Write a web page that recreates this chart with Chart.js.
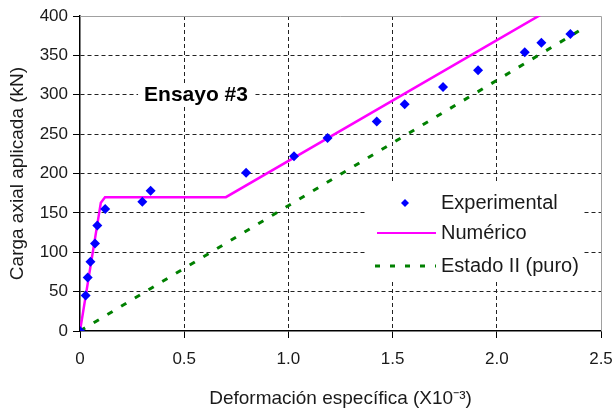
<!DOCTYPE html>
<html>
<head>
<meta charset="utf-8">
<script src="https://cdn.jsdelivr.net/npm/chart.js@4.4.1/dist/chart.umd.min.js"></script>
<style>
    body { margin: 0; background: #fff; }
    #contenedor { width: 615px; height: 411px; }
</style>
</head>
<body>
<div id="contenedor"><canvas id="grafica" width="615" height="411"></canvas></div>
<script>
// Datos (Ensayo #3)
const expX = [0, 0.027, 0.037, 0.05, 0.072, 0.083, 0.121, 0.299, 0.339, 0.797, 1.027, 1.188, 1.424, 1.558, 1.742, 1.91, 2.134, 2.214, 2.353];
const expY = [0, 45, 68, 88, 111, 134, 155, 164, 178, 201, 222, 245, 266, 288, 310, 331, 354, 366, 377];
const numX = [0, 0.1, 0.12, 0.7, 2.22];
const numY = [0, 163, 170, 170, 403];
const estX = [0, 2.4];
const estY = [0, 382];
const xTicks = [0, 0.5, 1, 1.5, 2, 2.5];
const yTicks = [0, 50, 100, 150, 200, 250, 300, 350, 400];

const FUENTE = 'Arial, "Liberation Sans", sans-serif';
const TEXTO = '#1a1a1a';

const puntos = (xs, ys) => xs.map((x, i) => ({ x: x, y: ys[i] }));

// Cuadro del área de trazado, rótulo y leyenda
const extras = {
    id: 'extras',
    beforeDatasetsDraw(chart) {
        const { ctx, chartArea: a } = chart;
        ctx.save();
        ctx.strokeStyle = '#a0a0a0';
        ctx.lineWidth = 1;
        ctx.beginPath();
        ctx.moveTo(a.left, a.top + 0.5);
        ctx.lineTo(a.right + 0.5, a.top + 0.5);
        ctx.lineTo(a.right + 0.5, a.bottom);
        ctx.stroke();

        // rótulo "Ensayo #3"
        ctx.font = 'bold 21px ' + FUENTE;
        ctx.textAlign = 'center';
        ctx.textBaseline = 'middle';
        const w = ctx.measureText('Ensayo #3').width;
        ctx.fillStyle = '#fff';
        ctx.fillRect(196 - w / 2 - 6, 84, w + 12, 22);
        ctx.fillStyle = '#000';
        ctx.fillText('Ensayo #3', 196, 95);
        ctx.restore();
    },
    afterDraw(chart) {
        const { ctx } = chart;
        ctx.save();
        ctx.fillStyle = '#fff';
        ctx.fillRect(367, 183, 216, 99);

        ctx.font = '20px ' + FUENTE;
        ctx.textAlign = 'left';
        ctx.textBaseline = 'middle';

        // Experimental
        ctx.fillStyle = '#0000ff';
        ctx.beginPath();
        ctx.moveTo(405, 199); ctx.lineTo(409, 203); ctx.lineTo(405, 207); ctx.lineTo(401, 203);
        ctx.closePath();
        ctx.fill();
        ctx.fillStyle = TEXTO;
        ctx.fillText('Experimental', 441, 203);

        // Numérico
        ctx.strokeStyle = '#ff00ff';
        ctx.lineWidth = 2;
        ctx.beginPath();
        ctx.moveTo(377, 233); ctx.lineTo(436, 233);
        ctx.stroke();
        ctx.fillText('Numérico', 441, 233);

        // Estado II
        ctx.strokeStyle = '#008000';
        ctx.lineWidth = 3;
        ctx.setLineDash([5, 10]);
        ctx.beginPath();
        ctx.moveTo(375, 266); ctx.lineTo(436, 266);
        ctx.stroke();
        ctx.setLineDash([]);
        ctx.fillText('Estado II (puro)', 441, 266);
        ctx.restore();
    }
};

const rejilla = (extremos) => ({
    color: ctx => extremos.includes(ctx.tick && ctx.tick.value) ? 'rgba(0,0,0,0)' : '#222',
    lineWidth: 1,
    drawTicks: true,
    tickLength: 7,
    tickColor: '#000',
    tickBorderDash: [],
    tickWidth: 1
});

new Chart(document.getElementById('grafica'), {
    type: 'scatter',
    data: {
        datasets: [
            {
                label: 'Estado II (puro)',
                data: puntos(estX, estY),
                showLine: true,
                borderColor: '#008000',
                borderWidth: 3,
                borderDash: [6, 10],
                pointRadius: 0,
                order: 3
            },
            {
                label: 'Numérico',
                data: puntos(numX, numY),
                showLine: true,
                borderColor: '#ff00ff',
                borderWidth: 2.5,
                pointRadius: 0,
                order: 2
            },
            {
                label: 'Experimental',
                data: puntos(expX, expY),
                showLine: false,
                pointStyle: 'rectRot',
                pointRadius: 5,
                backgroundColor: '#0000ff',
                borderColor: '#0000ff',
                borderWidth: 0,
                order: 1
            }
        ]
    },
    options: {
        responsive: false,
        animation: false,
        layout: { padding: { left: 0, right: 14, top: 16, bottom: 0 } },
        plugins: {
            legend: { display: false },
            tooltip: { enabled: false }
        },
        scales: {
            x: {
                type: 'linear',
                min: 0,
                max: 2.5,
                afterBuildTicks: eje => { eje.ticks = xTicks.map(v => ({ value: v })); },
                afterFit: eje => { eje.height = 80; eje.paddingRight = 0; },
                grid: rejilla([0, 2.5]),
                border: { color: '#000', width: 1.5, dash: [4, 3] },
                ticks: { color: TEXTO, font: { family: FUENTE, size: 17 }, padding: 11, maxRotation: 0 },
                title: {
                    display: true,
                    text: 'Deformación específica (X10⁻³)',
                    color: TEXTO,
                    font: { family: FUENTE, size: 19 },
                    padding: { top: 0, bottom: 1 }
                }
            },
            y: {
                type: 'linear',
                min: 0,
                max: 400,
                afterBuildTicks: eje => { eje.ticks = yTicks.map(v => ({ value: v })); },
                afterFit: eje => { eje.width = 80; },
                grid: rejilla([0, 400]),
                border: { color: '#000', width: 1.5, dash: [4, 3] },
                ticks: { color: TEXTO, font: { family: FUENTE, size: 17 }, padding: 5 },
                title: {
                    display: true,
                    text: 'Carga axial aplicada (kN)',
                    color: TEXTO,
                    font: { family: FUENTE, size: 19 },
                    padding: { top: 6, bottom: 0 }
                }
            }
        }
    },
    plugins: [extras]
});
</script>
</body>
</html>
